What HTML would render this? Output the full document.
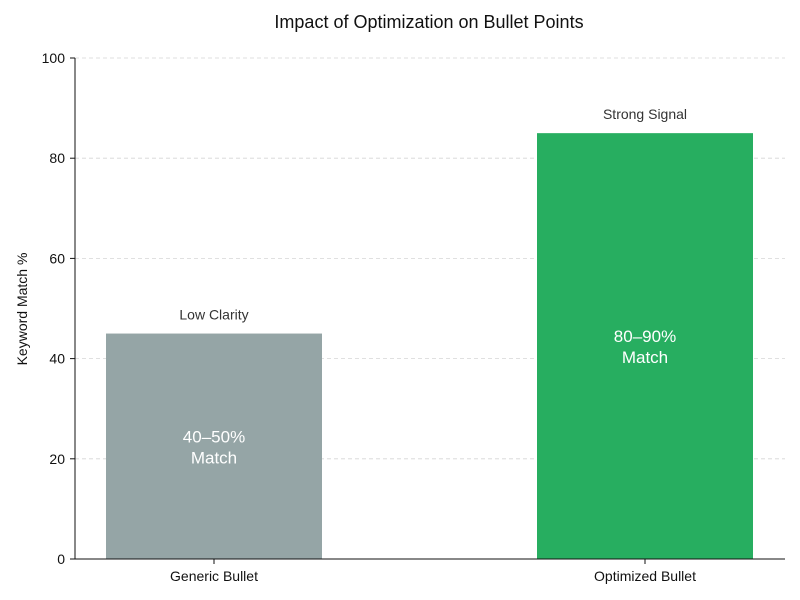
<!DOCTYPE html>
<html><head><meta charset="utf-8"><style>
body{margin:0;background:#fff}
svg{display:block;font-family:"Liberation Sans",sans-serif}
</style></head><body>
<svg id="chart" width="800" height="600">
<text x="429" y="28" text-anchor="middle" font-size="18" fill="#111">Impact of Optimization on Bullet Points</text>
<text transform="translate(27,309) rotate(-90)" text-anchor="middle" font-size="14" fill="#111">Keyword Match %</text>
<g id="grid"></g><g id="bars"></g><g id="axes"></g>
</svg>
<script>
const categories=["Generic Bullet","Optimized Bullet"];
const values=[45,85];
const topLabels=["Low Clarity","Strong Signal"];
const innerLabels=[["40–50%","Match"],["80–90%","Match"]];
const colors=["#95a5a6","#27ae60"];
const yTicks=[0,20,40,60,80,100];
const L=75,R=785,T=58,B=559;
const y=v=>B-(v/100)*(B-T);
const firstC=214,lastC=645;
const x=i=>firstC+(lastC-firstC)*(categories.length>1?i/(categories.length-1):0);
const bw=216;
const NS="http://www.w3.org/2000/svg";
function mk(tag,attrs,parent,text){const e=document.createElementNS(NS,tag);for(const k in attrs)e.setAttribute(k,attrs[k]);if(text!==undefined)e.textContent=text;parent.appendChild(e);return e;}
const grid=document.getElementById('grid'),bars=document.getElementById('bars'),axes=document.getElementById('axes');
yTicks.forEach(t=>{
  if(t>0){const g=mk('line',{x1:L,x2:R,y1:y(t),y2:y(t),stroke:'#d5d5d5','stroke-dasharray':'4,3','stroke-width':0.8},grid);
  
  }
  const tk=mk('line',{x1:L-5,x2:L,y1:y(t),y2:y(t),stroke:'#111'},axes);
  
  
  const lb=mk('text',{x:L-10,y:y(t)+5,'text-anchor':'end','font-size':14,fill:'#111'},axes,t);
  
  
});
categories.forEach((c,i)=>{
  const cx=x(i);
  const r=mk('rect',{x:cx-bw/2,y:y(values[i]),width:bw,height:B-y(values[i]),fill:colors[i]},bars);
  
  
  const tl=mk('text',{x:cx,y:y(values[i])-14,'text-anchor':'middle','font-size':14,fill:'#333'},bars,topLabels[i]);
  
  
  const my=y(values[i]/2);
  innerLabels[i].forEach((s,j)=>{
    const it=mk('text',{x:cx,y:my-4+j*21,'text-anchor':'middle','font-size':17,fill:'#fff'},bars,s);
    
    
  });
  const xt=mk('line',{x1:cx,x2:cx,y1:B,y2:B+5,stroke:'#111'},axes);
  
  
  const xl=mk('text',{x:cx,y:B+22,'text-anchor':'middle','font-size':14,fill:'#111'},axes,c);
  
  
});
const ya=mk('line',{x1:L,x2:L,y1:T,y2:B,stroke:'#111'},axes);


const xa=mk('line',{x1:L,x2:R,y1:B,y2:B,stroke:'#111'},axes);


</script>
</body></html>
